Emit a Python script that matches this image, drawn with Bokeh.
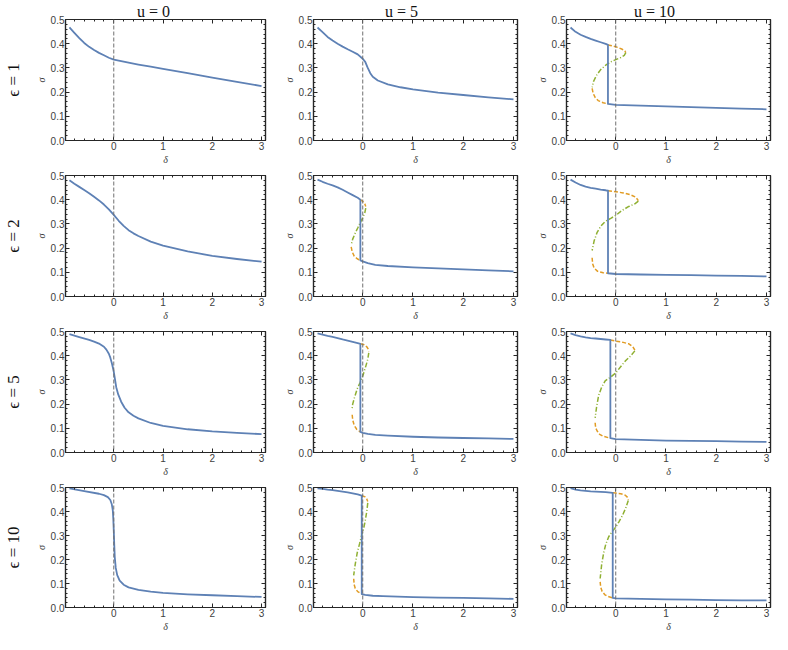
from bokeh.plotting import figure
from bokeh.models import Range1d, FixedTicker, LinearAxis, Span, Title, PrintfTickFormatter, CustomJSTickFormatter
from bokeh.layouts import column, row
from bokeh.embed import file_html
from bokeh.resources import INLINE

# ---------------- data ----------------
EPS = [1, 2, 5, 10]
U = [0, 5, 10]
X_TICKS = [0, 1, 2, 3]
Y_TICKS = [0.0, 0.1, 0.2, 0.3, 0.4, 0.5]

# eps = 1
E1_U0_BLUE = [(-0.9, 0.467), (-0.8, 0.445), (-0.7, 0.423), (-0.6, 0.403), (-0.5, 0.387), (-0.4, 0.374),
              (-0.3, 0.362), (-0.2, 0.352), (-0.1, 0.342), (0.0, 0.334), (0.25, 0.324), (0.5, 0.314),
              (0.75, 0.305), (1.0, 0.296), (1.5, 0.278), (2.0, 0.260), (2.5, 0.242), (3.0, 0.225)]
E1_U5_BLUE = [(-0.9, 0.467), (-0.8, 0.448), (-0.7, 0.428), (-0.6, 0.413), (-0.5, 0.400), (-0.4, 0.388),
              (-0.3, 0.377), (-0.2, 0.367), (-0.1, 0.356), (0.0, 0.338), (0.05, 0.325), (0.1, 0.300),
              (0.15, 0.278), (0.2, 0.263), (0.3, 0.248), (0.5, 0.232), (0.75, 0.220), (1.0, 0.211),
              (1.5, 0.198), (2.0, 0.188), (2.5, 0.178), (3.0, 0.170)]
E1_U10_UPPER = [(-0.9, 0.467), (-0.8, 0.449), (-0.7, 0.437), (-0.6, 0.428), (-0.5, 0.420), (-0.4, 0.413),
                (-0.3, 0.406), (-0.2, 0.399), (-0.155, 0.395)]
E1_U10_LOWER = [(-0.155, 0.151), (0.0, 0.147), (0.5, 0.144), (1.0, 0.141), (1.5, 0.138), (2.0, 0.135),
                (2.5, 0.132), (3.0, 0.129)]
E1_U10_ORANGE_HI = [(-0.155, 0.395), (-0.05, 0.390), (0.05, 0.384), (0.13, 0.377), (0.18, 0.370), (0.2, 0.363)]
E1_U10_GREEN = [(0.2, 0.363), (0.17, 0.352), (0.1, 0.343), (0.0, 0.334), (-0.1, 0.325), (-0.2, 0.311),
                (-0.3, 0.293), (-0.38, 0.270), (-0.44, 0.245), (-0.47, 0.220)]
E1_U10_ORANGE_LO = [(-0.47, 0.215), (-0.45, 0.195), (-0.41, 0.178), (-0.35, 0.165), (-0.25, 0.156), (-0.155, 0.151)]

# eps = 2
E2_U0_BLUE = [(-0.9, 0.480), (-0.8, 0.466), (-0.7, 0.453), (-0.6, 0.440), (-0.5, 0.427), (-0.4, 0.412),
              (-0.3, 0.397), (-0.2, 0.380), (-0.1, 0.360), (0.0, 0.337), (0.1, 0.313), (0.2, 0.292),
              (0.3, 0.274), (0.4, 0.261), (0.5, 0.250), (0.75, 0.227), (1.0, 0.210), (1.5, 0.186),
              (2.0, 0.168), (2.5, 0.155), (3.0, 0.144)]
E2_U5_UPPER = [(-0.9, 0.483), (-0.8, 0.474), (-0.7, 0.466), (-0.6, 0.459), (-0.5, 0.451), (-0.4, 0.441),
               (-0.3, 0.430), (-0.2, 0.419), (-0.1, 0.408), (-0.047, 0.400)]
E2_U5_LOWER = [(-0.047, 0.149), (0.0, 0.145), (0.1, 0.138), (0.25, 0.131), (0.5, 0.126), (1.0, 0.120),
               (1.5, 0.116), (2.0, 0.112), (2.5, 0.108), (3.0, 0.104)]
E2_U5_ORANGE_HI = [(-0.047, 0.400), (0.0, 0.393), (0.04, 0.383), (0.06, 0.372)]
E2_U5_GREEN = [(0.06, 0.365), (0.04, 0.345), (0.0, 0.325), (-0.05, 0.305), (-0.1, 0.283), (-0.15, 0.262),
               (-0.2, 0.237), (-0.23, 0.213)]
E2_U5_ORANGE_LO = [(-0.23, 0.205), (-0.21, 0.185), (-0.17, 0.167), (-0.11, 0.156), (-0.047, 0.149)]
E2_U10_UPPER = [(-0.9, 0.483), (-0.8, 0.471), (-0.7, 0.461), (-0.6, 0.454), (-0.5, 0.449), (-0.4, 0.446),
                (-0.3, 0.442), (-0.2, 0.439), (-0.154, 0.437)]
E2_U10_LOWER = [(-0.154, 0.096), (0.0, 0.093), (0.5, 0.091), (1.0, 0.089), (1.5, 0.088), (2.0, 0.086),
                (2.5, 0.085), (3.0, 0.083)]
E2_U10_ORANGE_HI = [(-0.154, 0.437), (0.0, 0.433), (0.15, 0.428), (0.3, 0.420), (0.4, 0.410), (0.45, 0.396)]
E2_U10_GREEN = [(0.45, 0.394), (0.38, 0.383), (0.26, 0.372), (0.12, 0.355), (0.0, 0.335), (-0.1, 0.323),
                (-0.21, 0.310), (-0.3, 0.290), (-0.37, 0.265), (-0.43, 0.230), (-0.47, 0.190)]
E2_U10_ORANGE_LO = [(-0.47, 0.160), (-0.46, 0.135), (-0.43, 0.117), (-0.36, 0.104), (-0.25, 0.098), (-0.154, 0.096)]

# eps = 5
E5_U0_BLUE = [(-0.9, 0.489), (-0.7, 0.477), (-0.5, 0.465), (-0.4, 0.458), (-0.3, 0.450), (-0.2, 0.437),
              (-0.15, 0.425), (-0.1, 0.408), (-0.07, 0.392), (-0.04, 0.370), (-0.02, 0.352), (0.0, 0.333),
              (0.02, 0.308), (0.05, 0.270), (0.09, 0.240), (0.15, 0.210), (0.22, 0.185), (0.3, 0.166),
              (0.4, 0.152), (0.5, 0.141), (0.75, 0.122), (1.0, 0.110), (1.5, 0.096), (2.0, 0.087),
              (2.5, 0.081), (3.0, 0.076)]
E5_U5_UPPER = [(-0.9, 0.492), (-0.8, 0.487), (-0.7, 0.482), (-0.6, 0.478), (-0.5, 0.473), (-0.4, 0.467),
               (-0.3, 0.462), (-0.2, 0.457), (-0.1, 0.452), (-0.047, 0.449)]
E5_U5_LOWER = [(-0.047, 0.085), (0.0, 0.081), (0.1, 0.077), (0.25, 0.073), (0.5, 0.070), (1.0, 0.065),
               (1.5, 0.062), (2.0, 0.060), (2.5, 0.058), (3.0, 0.056)]
E5_U5_ORANGE_HI = [(-0.047, 0.449), (0.03, 0.445), (0.08, 0.437), (0.11, 0.427), (0.12, 0.418)]
E5_U5_GREEN = [(0.12, 0.412), (0.1, 0.385), (0.06, 0.356), (0.0, 0.316), (-0.05, 0.290), (-0.11, 0.263),
               (-0.16, 0.230), (-0.2, 0.200), (-0.21, 0.183)]
E5_U5_ORANGE_LO = [(-0.21, 0.156), (-0.2, 0.135), (-0.17, 0.112), (-0.12, 0.096), (-0.047, 0.085)]
E5_U10_UPPER = [(-0.9, 0.492), (-0.8, 0.485), (-0.7, 0.480), (-0.6, 0.476), (-0.5, 0.473), (-0.4, 0.471),
                (-0.3, 0.469), (-0.2, 0.467), (-0.107, 0.465)]
E5_U10_LOWER = [(-0.107, 0.059), (0.0, 0.055), (0.5, 0.052), (1.0, 0.049), (1.5, 0.048), (2.0, 0.047),
                (2.5, 0.045), (3.0, 0.044)]
E5_U10_ORANGE_HI = [(-0.107, 0.465), (0.0, 0.460), (0.13, 0.456), (0.26, 0.449), (0.34, 0.437), (0.38, 0.423)]
E5_U10_GREEN = [(0.38, 0.420), (0.3, 0.400), (0.2, 0.380), (0.13, 0.363), (0.05, 0.342), (0.0, 0.329),
                (-0.1, 0.312), (-0.21, 0.296), (-0.28, 0.270), (-0.34, 0.236), (-0.38, 0.190), (-0.41, 0.143)]
E5_U10_ORANGE_LO = [(-0.41, 0.123), (-0.4, 0.102), (-0.37, 0.089), (-0.32, 0.075), (-0.25, 0.067), (-0.107, 0.059)]

# eps = 10
E10_U0_BLUE = [(-0.9, 0.496), (-0.6, 0.485), (-0.3, 0.474), (-0.2, 0.468), (-0.12, 0.460), (-0.07, 0.448),
               (-0.04, 0.430), (-0.02, 0.405), (-0.01, 0.370), (0.0, 0.320), (0.01, 0.260), (0.02, 0.210),
               (0.04, 0.165), (0.07, 0.135), (0.12, 0.112), (0.2, 0.095), (0.3, 0.084), (0.5, 0.073),
               (0.75, 0.066), (1.0, 0.061), (1.5, 0.055), (2.0, 0.051), (2.5, 0.047), (3.0, 0.044)]
E10_U5_UPPER = [(-0.9, 0.496), (-0.8, 0.494), (-0.7, 0.491), (-0.6, 0.489), (-0.5, 0.486), (-0.4, 0.483),
                (-0.3, 0.480), (-0.2, 0.476), (-0.1, 0.471), (-0.02, 0.466)]
E10_U5_LOWER = [(-0.02, 0.056), (0.05, 0.053), (0.2, 0.049), (0.4, 0.047), (0.7, 0.045), (1.0, 0.043),
                (1.5, 0.041), (2.0, 0.040), (2.5, 0.038), (3.0, 0.036)]
E10_U5_ORANGE_HI = [(-0.02, 0.466), (0.04, 0.462), (0.08, 0.452), (0.1, 0.442)]
E10_U5_GREEN = [(0.1, 0.436), (0.08, 0.400), (0.05, 0.362), (0.02, 0.330), (-0.013, 0.308), (-0.06, 0.268),
                (-0.11, 0.228), (-0.15, 0.180), (-0.18, 0.134)]
E10_U5_ORANGE_LO = [(-0.18, 0.120), (-0.17, 0.095), (-0.15, 0.080), (-0.1, 0.066), (-0.02, 0.056)]
E10_U10_UPPER = [(-0.9, 0.497), (-0.8, 0.491), (-0.7, 0.488), (-0.6, 0.486), (-0.5, 0.484), (-0.4, 0.483),
                 (-0.3, 0.482), (-0.2, 0.481), (-0.06, 0.478)]
E10_U10_LOWER = [(-0.06, 0.040), (0.0, 0.038), (0.5, 0.036), (1.0, 0.034), (1.5, 0.033), (2.0, 0.031),
                 (2.5, 0.030), (3.0, 0.030)]
E10_U10_ORANGE_HI = [(-0.06, 0.478), (0.0, 0.477), (0.1, 0.474), (0.19, 0.468), (0.24, 0.458), (0.25, 0.449)]
E10_U10_GREEN = [(0.25, 0.446), (0.2, 0.415), (0.13, 0.382), (0.06, 0.356), (0.0, 0.335), (-0.07, 0.316),
                 (-0.14, 0.295), (-0.2, 0.262), (-0.24, 0.228), (-0.28, 0.180), (-0.31, 0.121)]
E10_U10_ORANGE_LO = [(-0.31, 0.107), (-0.3, 0.085), (-0.27, 0.067), (-0.22, 0.054), (-0.17, 0.047), (-0.06, 0.040)]

PANELS = {
    (1, 0): dict(blue=E1_U0_BLUE),
    (1, 5): dict(blue=E1_U5_BLUE),
    (1, 10): dict(blue=E1_U10_UPPER + E1_U10_LOWER, orange_hi=E1_U10_ORANGE_HI, green=E1_U10_GREEN, orange_lo=E1_U10_ORANGE_LO),
    (2, 0): dict(blue=E2_U0_BLUE),
    (2, 5): dict(blue=E2_U5_UPPER + E2_U5_LOWER, orange_hi=E2_U5_ORANGE_HI, green=E2_U5_GREEN, orange_lo=E2_U5_ORANGE_LO),
    (2, 10): dict(blue=E2_U10_UPPER + E2_U10_LOWER, orange_hi=E2_U10_ORANGE_HI, green=E2_U10_GREEN, orange_lo=E2_U10_ORANGE_LO),
    (5, 0): dict(blue=E5_U0_BLUE),
    (5, 5): dict(blue=E5_U5_UPPER + E5_U5_LOWER, orange_hi=E5_U5_ORANGE_HI, green=E5_U5_GREEN, orange_lo=E5_U5_ORANGE_LO),
    (5, 10): dict(blue=E5_U10_UPPER + E5_U10_LOWER, orange_hi=E5_U10_ORANGE_HI, green=E5_U10_GREEN, orange_lo=E5_U10_ORANGE_LO),
    (10, 0): dict(blue=E10_U0_BLUE),
    (10, 5): dict(blue=E10_U5_UPPER + E10_U5_LOWER, orange_hi=E10_U5_ORANGE_HI, green=E10_U5_GREEN, orange_lo=E10_U5_ORANGE_LO),
    (10, 10): dict(blue=E10_U10_UPPER + E10_U10_LOWER, orange_hi=E10_U10_ORANGE_HI, green=E10_U10_GREEN, orange_lo=E10_U10_ORANGE_LO),
}

# ---------------- style ----------------
BLUE = "#5E81B5"
ORANGE = "#E19C24"
GREEN = "#8FB032"
FRAME = "#262626"
TICK_TXT = "#404040"

X_MINOR = [round(-0.8 + 0.2 * i, 1) for i in range(20)]
Y_MINOR = [round(0.02 * i, 2) for i in range(26)]

COL_LEFT = [61, 40, 41]
COL_RIGHT = [8, 8, 2]
FRAME_W = 204
ROW_TOP = [19, 8, 8, 8]
ROW_BOTTOM = [25, 25, 25, 24]
FRAME_H = 123

TITLE_PX = 16
# approximate advance widths (em) of the serif title glyphs, to centre the column title over the cell
GLYPH_EM = {"u": 0.5, " ": 0.25, "=": 0.564}


def blank_formatter():
    return CustomJSTickFormatter(code="return ''")


def style_axis(ax, labels=True):
    ax.major_tick_in = 4
    ax.major_tick_out = 0
    ax.minor_tick_in = 2
    ax.minor_tick_out = 0
    ax.axis_line_color = FRAME
    ax.axis_line_width = 1.2
    ax.major_tick_line_color = FRAME
    ax.minor_tick_line_color = FRAME
    ax.major_tick_line_width = 1
    ax.minor_tick_line_width = 1
    if labels:
        ax.major_label_text_font = "Liberation Sans"
        ax.major_label_text_font_size = "10px"
        ax.major_label_text_color = TICK_TXT
        ax.major_label_standoff = 1
        ax.axis_label_text_font = "Liberation Serif"
        ax.axis_label_text_font_style = "italic"
        ax.axis_label_text_font_size = "10px"
        ax.axis_label_text_color = "#404040"
        ax.axis_label_standoff = 1
    else:
        ax.major_label_text_font_size = "0px"
        ax.major_label_standoff = 0
        ax.formatter = blank_formatter()


X0, X1 = -0.98, 3.08

rows = []
for ri, eps in enumerate(EPS):
    figs = []
    for ci, u in enumerate(U):
        w = COL_LEFT[ci] + FRAME_W + COL_RIGHT[ci]
        h = ROW_TOP[ri] + FRAME_H + ROW_BOTTOM[ri]
        p = figure(width=w, height=h, x_range=Range1d(X0, X1), y_range=Range1d(0, 0.5),
                   output_backend="svg", toolbar_location=None,
                   min_border_left=COL_LEFT[ci], min_border_right=COL_RIGHT[ci],
                   min_border_top=ROW_TOP[ri], min_border_bottom=ROW_BOTTOM[ri],
                   x_axis_label="δ", y_axis_label="σ")
        p.grid.visible = False
        p.outline_line_color = FRAME
        p.outline_line_width = 1.2
        p.background_fill_color = "white"
        p.border_fill_color = "white"

        p.xaxis.ticker = FixedTicker(ticks=X_TICKS, minor_ticks=X_MINOR)
        p.yaxis.ticker = FixedTicker(ticks=Y_TICKS, minor_ticks=Y_MINOR)
        p.yaxis.formatter = PrintfTickFormatter(format="%.1f")
        for ax in p.xaxis + p.yaxis:
            style_axis(ax)

        top = LinearAxis(ticker=FixedTicker(ticks=X_TICKS, minor_ticks=X_MINOR))
        right = LinearAxis(ticker=FixedTicker(ticks=Y_TICKS, minor_ticks=Y_MINOR))
        style_axis(top, labels=False)
        style_axis(right, labels=False)
        p.add_layout(top, "above")
        p.add_layout(right, "right")

        if ri == 0:
            txt = f"u = {u}"
            tw = sum(GLYPH_EM.get(ch, 0.5) for ch in txt) * TITLE_PX
            p.add_layout(Title(text=txt, align="left", text_font="Liberation Serif",
                               text_font_size=f"{TITLE_PX}px", text_font_style="normal",
                               text_color="#111111", standoff=0,
                               offset=FRAME_W / 2 - 14 - tw / 2), "above")
        if ci == 0:
            lab = LinearAxis(ticker=FixedTicker(ticks=[]), formatter=blank_formatter(),
                             axis_label=f"ϵ = {eps}", axis_line_color=None,
                             major_tick_line_color=None, minor_tick_line_color=None,
                             major_tick_in=0, major_tick_out=0, minor_tick_in=0, minor_tick_out=0,
                             major_label_text_font_size="0px", major_label_standoff=0,
                             axis_label_text_font="Liberation Serif", axis_label_text_font_size="17px",
                             axis_label_text_font_style="normal", axis_label_text_color="#111111",
                             axis_label_standoff=10)
            p.add_layout(lab, "left")

        p.add_layout(Span(location=0, dimension="height", line_color="#707070",
                          line_dash="4 2", line_width=1))

        d = PANELS[(eps, u)]
        bx = [pt[0] for pt in d["blue"]]
        by = [pt[1] for pt in d["blue"]]
        if "green" in d:
            for key, col, dash in (("orange_hi", ORANGE, "4 2"), ("green", GREEN, "5 2 1 2"),
                                   ("orange_lo", ORANGE, "4 2")):
                p.line([pt[0] for pt in d[key]], [pt[1] for pt in d[key]],
                       line_color=col, line_width=1.5, line_dash=dash)
        p.line(bx, by, line_color=BLUE, line_width=1.8, line_join="round")
        figs.append(p)
    rows.append(row(*figs, spacing=0))

layout = column(*rows, spacing=0)
open("out.html", "w").write(file_html(layout, INLINE))
